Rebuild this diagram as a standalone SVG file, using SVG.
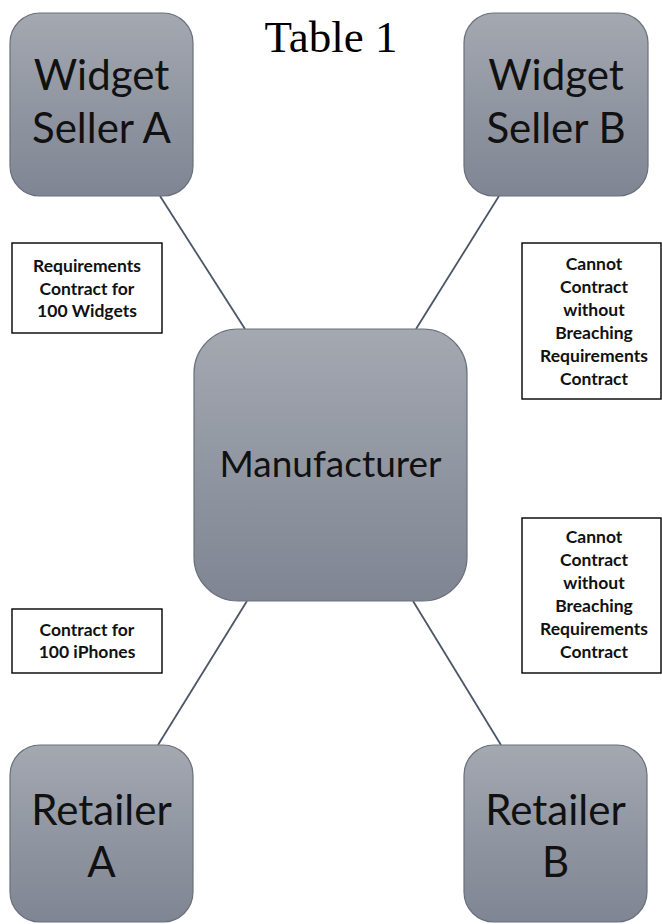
<svg xmlns="http://www.w3.org/2000/svg" width="662" height="924" viewBox="0 0 662 924">
  <style>
    .node rect { fill: url(#nodeFill); stroke: #6a707b; stroke-width: 1.2; }
    .node text { font-family: Lato, "Open Sans", sans-serif; fill: #111; text-anchor: middle; }
    .big { font-size: 42px; }
    .mid { font-size: 37px; }
    .note rect { fill: #fff; stroke: #000; stroke-width: 1.4; }
    .note text { font-family: Lato, "Liberation Sans", sans-serif; font-weight: bold; font-size: 17.5px; fill: #111; text-anchor: middle; }
    .link { stroke: #4c5668; stroke-width: 1.8; fill: none; }
    .title { font-family: "Liberation Serif", "Times New Roman", serif; font-size: 45px; fill: #000; text-anchor: middle; }
  </style>
  <defs>
    <linearGradient id="nodeFill" x1="0" y1="0" x2="0" y2="1">
      <stop offset="0" stop-color="#a3a8b1"/>
      <stop offset="1" stop-color="#7f8592"/>
    </linearGradient>
  </defs>

  <text class="title" x="331" y="52">Table 1</text>

  <!-- connectors between the manufacturer and each party -->
  <g id="connectors">
    <line class="link" x1="160" y1="196" x2="245" y2="329"/>
    <line class="link" x1="499" y1="196" x2="416" y2="329"/>
    <line class="link" x1="247" y1="601" x2="158" y2="745"/>
    <line class="link" x1="413" y1="601" x2="501" y2="745"/>
  </g>

  <g id="widget-seller-a" class="node">
    <rect x="10" y="13" width="183" height="183" rx="30"/>
    <text class="big" x="101.5" y="90">Widget</text>
    <text class="big" x="101.5" y="143">Seller A</text>
  </g>

  <g id="widget-seller-b" class="node">
    <rect x="464" y="13" width="184" height="183" rx="30"/>
    <text class="big" x="556" y="90">Widget</text>
    <text class="big" x="556" y="143">Seller B</text>
  </g>

  <g id="manufacturer" class="node">
    <rect x="194" y="329" width="273" height="272" rx="44"/>
    <text class="mid" x="330.5" y="477">Manufacturer</text>
  </g>

  <g id="retailer-a" class="node">
    <rect x="10" y="745" width="183" height="177" rx="30"/>
    <text class="big" x="101.5" y="825">Retailer</text>
    <text class="big" x="101.5" y="877">A</text>
  </g>

  <g id="retailer-b" class="node">
    <rect x="464" y="745" width="183" height="177" rx="30"/>
    <text class="big" x="555.5" y="825">Retailer</text>
    <text class="big" x="555.5" y="877">B</text>
  </g>

  <g id="note-requirements" class="note">
    <rect x="12" y="243" width="150" height="90"/>
    <text x="87" y="272">Requirements</text>
    <text x="87" y="294.5">Contract for</text>
    <text x="87" y="317">100 Widgets</text>
  </g>

  <g id="note-seller-b" class="note">
    <rect x="522" y="243" width="139" height="156"/>
    <text x="594" y="270">Cannot</text>
    <text x="594" y="293">Contract</text>
    <text x="594" y="316">without</text>
    <text x="594" y="339">Breaching</text>
    <text x="594" y="362">Requirements</text>
    <text x="594" y="385">Contract</text>
  </g>

  <g id="note-iphones" class="note">
    <rect x="12" y="609" width="150" height="64"/>
    <text x="87" y="636">Contract for</text>
    <text x="87" y="658">100 iPhones</text>
  </g>

  <g id="note-retailer-b" class="note">
    <rect x="522" y="518" width="139" height="155"/>
    <text x="594" y="543">Cannot</text>
    <text x="594" y="566">Contract</text>
    <text x="594" y="589">without</text>
    <text x="594" y="612">Breaching</text>
    <text x="594" y="635">Requirements</text>
    <text x="594" y="658">Contract</text>
  </g>
</svg>
